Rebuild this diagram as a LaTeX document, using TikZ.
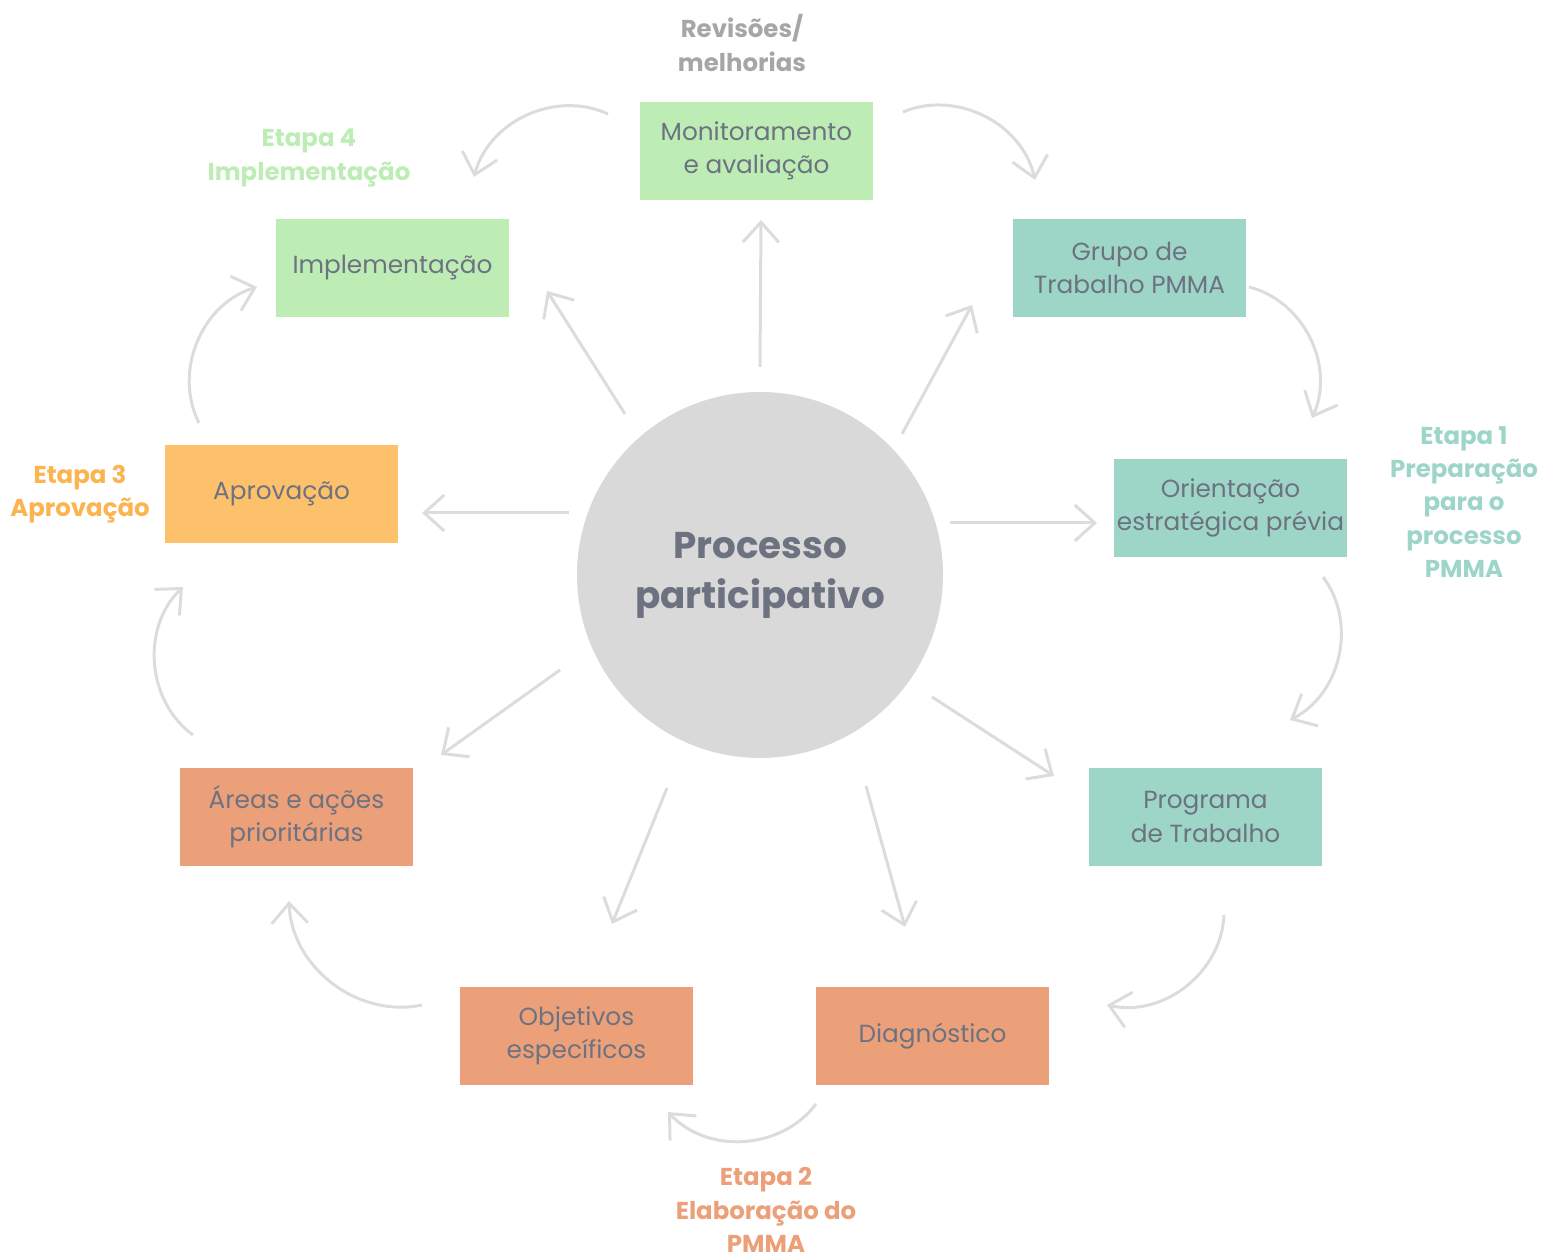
\documentclass[tikz,border=0pt]{standalone}
\usepackage{fontspec}
\setmainfont{Poppins}
\usetikzlibrary{arrows.meta}
\definecolor{boxgreen}{HTML}{BDEDB5}
\definecolor{boxteal}{HTML}{9DD5C7}
\definecolor{boxorange}{HTML}{FDC06B}
\definecolor{boxsalmon}{HTML}{ECA07A}
\definecolor{textgray}{HTML}{6D7280}
\definecolor{circlegray}{HTML}{D9D9D9}
\definecolor{arrowgray}{HTML}{DCDCDC}
\definecolor{lblorange}{HTML}{FBB450}
\definecolor{lblgray}{HTML}{A6A6A6}
\tikzset{
  caixa/.style={rectangle, minimum width=2.33cm, minimum height=0.98cm,
    inner sep=0pt, align=center, text=textgray,
    font=\fontsize{7.05}{9.4}\selectfont},
  rotulo/.style={align=center, font=\bfseries\fontsize{6.95}{9.5}\selectfont},
  seta/.style={draw=arrowgray, line width=0.85pt,
    -{Straight Barb[length=2mm,width=3.6mm]}}
}
\begin{document}
\begin{tikzpicture}
  \useasboundingbox (0,0) rectangle (15.44,12.57);
  \node[circle, fill=circlegray, minimum size=3.66cm, inner sep=0pt,
    text=textgray, align=center, font=\bfseries\fontsize{10.6}{14.2}\selectfont]
    (centro) at (7.60,6.82) {Processo\\participativo};
  % caixas
  \node[caixa, fill=boxgreen]  (monit)    at (7.565,11.06) {Monitoramento\\e avaliação};
  \node[caixa, fill=boxteal]   (grupo)    at (11.295,9.89) {Grupo de\\Trabalho PMMA};
  \node[caixa, fill=boxteal]   (orient)   at (12.305,7.49) {Orientação\\estratégica prévia};
  \node[caixa, fill=boxteal]   (programa) at (12.055,4.40) {Programa\\de Trabalho};
  \node[caixa, fill=boxsalmon] (diag)     at (9.325,2.21)  {Diagnóstico};
  \node[caixa, fill=boxsalmon] (objet)    at (5.765,2.21)  {Objetivos\\específicos};
  \node[caixa, fill=boxsalmon] (areas)    at (2.965,4.40)  {Áreas e ações\\prioritárias};
  \node[caixa, fill=boxorange] (aprov)    at (2.815,7.63)  {Aprovação};
  \node[caixa, fill=boxgreen]  (implem)   at (3.925,9.89)  {Implementação};
  % rotulos das etapas
  \node[rotulo, text=lblgray]    (revisoes) at (7.42,12.14) {Revisões/\\melhorias};
  \node[rotulo, text=boxgreen]   (etapa4)   at (3.09,10.99) {Etapa 4\\Implementação};
  \node[rotulo, text=boxteal]    (etapa1)   at (14.64,7.55) {Etapa 1\\Preparação\\para o\\processo\\PMMA};
  \node[rotulo, text=lblorange]  (etapa3)   at (0.80,7.63)  {Etapa 3\\Aprovação};
  \node[rotulo, text=boxsalmon]  (etapa2)   at (7.66,0.47)  {Etapa 2\\Elaboração do\\PMMA};
  % setas radiais
  \coordinate (r1a) at (7.60,8.90);  \coordinate (r1b) at (7.61,10.37);
  \coordinate (r2a) at (9.02,8.23);  \coordinate (r2b) at (9.72,9.52);
  \coordinate (r3a) at (9.50,7.34);  \coordinate (r3b) at (10.97,7.34);
  \coordinate (r4a) at (9.32,5.60);  \coordinate (r4b) at (10.54,4.81);
  \coordinate (r5a) at (8.66,4.71);  \coordinate (r5b) at (9.05,3.30);
  \coordinate (r6a) at (6.67,4.69);  \coordinate (r6b) at (6.12,3.33);
  \coordinate (r7a) at (5.60,5.87);  \coordinate (r7b) at (4.41,5.02);
  \coordinate (r8a) at (5.69,7.44);  \coordinate (r8b) at (4.22,7.44);
  \coordinate (r9a) at (6.25,8.43);  \coordinate (r9b) at (5.47,9.66);
  \draw[seta] (r1a) -- (r1b);
  \draw[seta] (r2a) -- (r2b);
  \draw[seta] (r3a) -- (r3b);
  \draw[seta] (r4a) -- (r4b);
  \draw[seta] (r5a) -- (r5b);
  \draw[seta] (r6a) -- (r6b);
  \draw[seta] (r7a) -- (r7b);
  \draw[seta] (r8a) -- (r8b);
  \draw[seta] (r9a) -- (r9b);
  % setas curvas
  \coordinate (c1a) at (9.03,11.45); \coordinate (c1b) at (10.35,10.77);
  \coordinate (c2a) at (12.49,9.70); \coordinate (c2b) at (13.12,8.39);
  \coordinate (c3a) at (13.23,6.80); \coordinate (c3b) at (12.90,5.37);
  \coordinate (c4a) at (12.24,3.42); \coordinate (c4b) at (11.07,2.52);
  \coordinate (c5a) at (8.16,1.53);  \coordinate (c5b) at (6.68,1.45);
  \coordinate (c6a) at (4.22,2.52);  \coordinate (c6b) at (2.89,3.56);
  \coordinate (c7a) at (1.93,5.22);  \coordinate (c7b) at (1.83,6.70);
  \coordinate (c8a) at (1.99,8.34);  \coordinate (c8b) at (2.57,9.70);
  \coordinate (c9a) at (6.08,11.43); \coordinate (c9b) at (4.74,10.80);
  \draw[seta] (c1a) to[bend left=50] (c1b);
  \draw[seta] (c2a) to[bend left=50] (c2b);
  \draw[seta] (c3a) to[bend left=50] (c3b);
  \draw[seta] (c4a) to[bend left=50] (c4b);
  \draw[seta] (c5a) to[bend left=50] (c5b);
  \draw[seta] (c6a) to[bend left=50] (c6b);
  \draw[seta] (c7a) to[bend left=50] (c7b);
  \draw[seta] (c8a) to[bend left=50] (c8b);
  \draw[seta] (c9a) to[bend right=50] (c9b);
\end{tikzpicture}
\end{document}
